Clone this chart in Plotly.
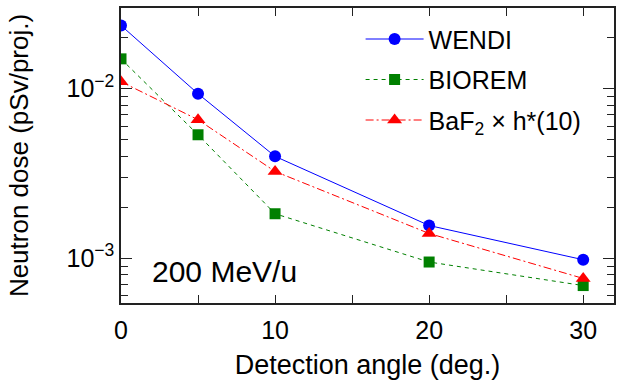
import plotly.graph_objects as go

angles = [0, 5, 10, 20, 30]
wendi = [0.0236, 0.00934, 0.00399, 0.00156, 0.00098]
biorem = [0.0150, 0.00535, 0.00183, 0.00095, 0.00069]
baf2 = [0.0110, 0.00656, 0.00325, 0.00140, 0.00076]

x_major = [0, 10, 20, 30]
x_minor = [5, 15, 25]
y_major = [1e-3, 1e-2]
y_major_text = ["10<sup>\u22123</sup>", "10<sup>\u22122</sup>"]
y_minor = [m * 10 ** e for e in (-4, -3, -2) for m in range(2, 10)]

FONT = "Liberation Sans, Arial, sans-serif"

fig = go.Figure()
fig.add_trace(go.Scatter(x=angles, y=wendi, name="WENDI", mode="lines+markers",
                         line=dict(color="#0000ff", width=1, dash="solid"),
                         marker=dict(symbol="circle", size=12, color="#0000ff"),
                         legendgroup="a"))
fig.add_trace(go.Scatter(x=angles, y=biorem, name="BIOREM", mode="lines+markers",
                         line=dict(color="#008000", width=1, dash="4px,4px"),
                         marker=dict(symbol="square", size=11, color="#008000"),
                         legendgroup="b"))
fig.add_trace(go.Scatter(x=angles, y=baf2, name="BaF<sub>2</sub> \u00d7 h*(10)",
                         mode="lines+markers",
                         line=dict(color="#ff0000", width=1, dash="8px,3px,2px,3px"),
                         marker=dict(symbol="triangle-up", size=13, color="#ff0000"),
                         legendgroup="c"))

fig.add_annotation(text="200 MeV/u", xref="paper", yref="paper", x=0.058, y=0.106,
                   xanchor="left", yanchor="middle", showarrow=False,
                   font=dict(family=FONT, size=30, color="black"))

fig.update_layout(
    width=620, height=387,
    margin=dict(l=121, r=6, t=8, b=84, autoexpand=False),
    paper_bgcolor="white", plot_bgcolor="white",
    font=dict(family=FONT, size=24, color="black"),
    showlegend=True,
    legend=dict(x=0.486, y=0.972, xanchor="left", yanchor="top",
                bgcolor="rgba(0,0,0,0)", font=dict(family=FONT, size=25),
                traceorder="grouped", tracegroupgap=5, itemwidth=58),
    xaxis=dict(range=[0, 32], tickvals=x_major, ticks="inside", ticklen=8,
               tickwidth=1.3, tickcolor="#222", showline=True, linecolor="#222",
               linewidth=1.5, mirror="ticks", showgrid=False, zeroline=False,
               automargin=False, ticklabelstandoff=4,
               tickfont=dict(size=25),
               minor=dict(tickvals=x_minor, ticks="inside", ticklen=8,
                          tickwidth=1.3, tickcolor="#222", showgrid=False),
               title=dict(text="Detection angle (deg.)", font=dict(size=27), standoff=12)),
    yaxis=dict(type="log", range=[-3.264, -1.524], tickvals=y_major,
               ticktext=y_major_text, ticks="inside", ticklen=11, tickwidth=1.3,
               tickcolor="#222", showline=True, linecolor="#222", linewidth=1.5,
               mirror="ticks", showgrid=False, zeroline=False,
               automargin=False,
               tickfont=dict(size=25),
               minor=dict(tickvals=y_minor, ticks="inside", ticklen=7,
                          tickwidth=1.3, tickcolor="#222", showgrid=False),
               title=dict(text="Neutron dose (pSv/proj.)", font=dict(size=26), standoff=30)),
)

fig.write_html("out.html", config={"displayModeBar": False},
               post_script="document.body.style.margin='0';")
